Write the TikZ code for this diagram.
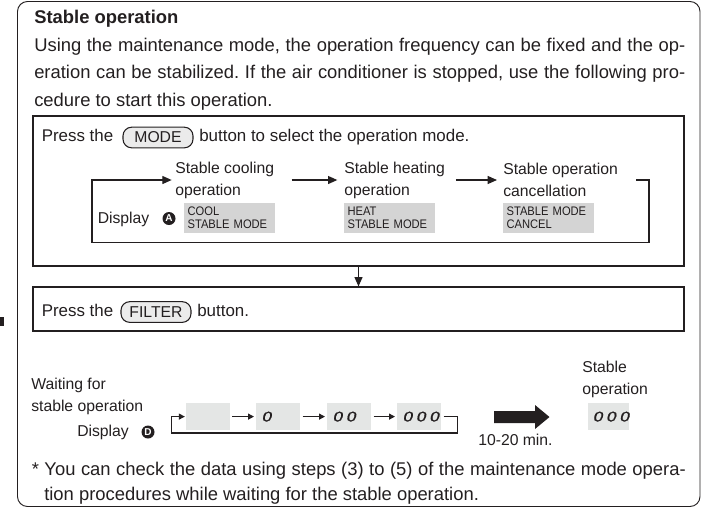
\documentclass[tikz,border=0pt]{standalone}
\usepackage{fontspec}
\setmainfont{Liberation Sans}
\newfontfamily\segfont[FakeSlant=0.22,FakeBold=1,FakeStretch=1.25]{Liberation Sans}
\newfontfamily\narrowfont[FakeStretch=0.9]{Liberation Sans}
\usetikzlibrary{arrows.meta}
\definecolor{ink}{HTML}{231F20}
\definecolor{dispgray}{HTML}{D4D4D4}
\definecolor{lcdgray}{HTML}{E4E6E5}
\definecolor{btngray}{HTML}{EBEBEB}
\frenchspacing
\begin{document}
\frenchspacing
\begin{tikzpicture}[x=0.75pt,y=-0.75pt,
  every node/.style={inner sep=0pt, text=ink},
  paraf/.style={font=\fontsize{13.8}{20}\selectfont},
  pressf/.style={font=\fontsize{12.7}{15}\selectfont},
  lbl/.style={font=\fontsize{11.8}{16.5}\selectfont, align=left},
  frameline/.style={draw=ink, line width=0.7pt},
  panel/.style={draw=ink, line width=0.9pt},
  loopline/.style={draw=ink, line width=0.9pt},
  arr/.style={loopline, -{Triangle[length=7pt,width=6pt]}},
  sarr/.style={loopline, -{Triangle[length=4.5pt,width=4.5pt]}},
  dispbox/.style={fill=dispgray, anchor=north west, inner xsep=2.5pt,
    text width=63.25pt, minimum height=22.5pt, align=left,
    font=\narrowfont\fontsize{9.3}{9.2}\selectfont},
  lcd/.style={fill=lcdgray, anchor=north west, minimum width=33pt,
    minimum height=20pt, font=\segfont\fontsize{10.5}{10.5}\selectfont},
  btn/.style={draw=ink, line width=0.8pt, fill=btngray, rounded corners=6.5pt,
    minimum height=15.5pt, minimum width=52.5pt, font=\fontsize{11.8}{12}\selectfont},
  circ/.style={circle, fill=ink, text=white, minimum size=9.75pt,
    font=\fontsize{7.5}{7.5}\selectfont\bfseries}
]
\useasboundingbox (0,0) rectangle (705,508);

% outer frame and margin mark
\draw[frameline, rounded corners=7.5pt] (17.5,1.5) rectangle (700,506.5);
\fill[ink] (0,317) rectangle (4,326);

% heading and paragraph
\node[anchor=base west, font=\fontsize{13.8}{16}\selectfont\bfseries] (title) at (34,23.5) {Stable operation};
\node[anchor=base west, paraf] (p1) at (34,51) {\makebox[488.25pt][s]{Using the maintenance mode, the operation frequency can be fixed and the op-}};
\node[anchor=base west, paraf] (p2) at (34,78.5) {\makebox[488.25pt][s]{eration can be stabilized. If the air conditioner is stopped, use the following pro-}};
\node[anchor=base west, paraf] (p3) at (34,106) {cedure to start this operation.};

% panel 1
\node[panel, minimum width=488.25pt, minimum height=112.5pt] (box1) at (358.5,191) {};
\node[anchor=base west, pressf] (press1) at (41.5,141.5) {Press the};
\node[btn] (mode) at (158,137.5) {MODE};
\node[anchor=base west, pressf] (sel) at (199,141.5) {button to select the operation mode.};

\node[lbl, anchor=west] (cool) at (175,180) {Stable cooling\\operation};
\node[lbl, anchor=west] (heat) at (344,180) {Stable heating\\operation};
\node[lbl, anchor=west] (canc) at (503,180) {Stable operation\\cancellation};

\draw[arr] ([xshift=13pt]cool.east) -- ([xshift=-5pt]heat.west);
\draw[arr] ([xshift=8pt]heat.east) -- ([xshift=-4.5pt]canc.west);
\coordinate (l1r) at (649,242.5);
\coordinate (l1l) at (92,242.5);
\draw[arr] ([xshift=13.5pt]canc.east) -- (canc.east -| l1r) -- (l1r) -- (l1l) -- (l1l |- cool.west) -- ([xshift=-2.5pt]cool.west);

\node[lbl, anchor=west] (disp1) at (97.5,219) {Display};
\node[circ] (cA) at (169,218.5) {A};
\node[dispbox] (dcool) at (184,202.5) {COOL\\STABLE MODE};
\node[dispbox] (dheat) at (344,202.5) {HEAT\\STABLE MODE};
\node[dispbox] (dcanc) at (503,202.5) {STABLE MODE\\CANCEL};

% panel 2
\node[panel, minimum width=488.25pt, minimum height=33pt] (box2) at (358.5,309) {};
\draw[arr] (box1.south) -- (box2.north);
\node[anchor=base west, pressf] (press2) at (41.5,316) {Press the};
\node[btn] (filter) at (156,312) {FILTER};
\node[anchor=base west, pressf] (btn2) at (197,316) {button.};

% waiting sequence
\node[lbl, anchor=west] (wait) at (31,396) {Waiting for\\stable operation};
\node[lbl, anchor=west] (disp2) at (77,432) {Display};
\node[circ] (cD) at (148,432) {D};

\node[lcd] (d1) at (185.5,403) {};
\node[lcd] (d2) at (256,403) {\raisebox{-2.2pt}{\makebox[25pt][l]{0}}};
\node[lcd] (d3) at (327,403) {\raisebox{-2.2pt}{\makebox[25pt][l]{0\hspace{2.7pt}0}}};
\node[lcd] (d4) at (397,403) {\raisebox{-2.2pt}{\makebox[25pt][l]{0\hspace{2.7pt}0\hspace{2.7pt}0}}};
\draw[sarr] ([xshift=1.5pt]d1.east) -- ([xshift=-1.5pt]d2.west);
\draw[sarr] ([xshift=1.5pt]d2.east) -- ([xshift=-1.5pt]d3.west);
\draw[sarr] ([xshift=1.5pt]d3.east) -- ([xshift=-1.5pt]d4.west);
\coordinate (l2r) at (457.5,433);
\coordinate (l2l) at (171.5,433);
\draw[sarr] ([xshift=1.5pt]d4.east) -- (d4.east -| l2r) -- (l2r) -- (l2l) -- (l2l |- d1.west) -- ([xshift=-0.5pt]d1.west);

% big arrow
\fill[ink] (494,411) -- (535,411) -- (535,405) -- (549.5,417) -- (535,429) -- (535,423) -- (494,423) -- cycle;
\node[lbl, anchor=west] (time) at (478,439.5) {10-20 min.};

% result
\node[lbl, anchor=west] (stab) at (582,379) {Stable\\operation};
\node[lcd, minimum width=30.75pt] (dres) at (588,403) {\raisebox{-2.2pt}{\makebox[24pt][l]{0\hspace{2.7pt}0\hspace{2.7pt}0}}};

% footnote
\node[anchor=base west, paraf] (f1) at (31.5,475) {\makebox[490.5pt][s]{* You can check the data using steps (3) to (5) of the maintenance mode opera-}};
\node[anchor=base west, paraf] (f2) at (44,500) {tion procedures while waiting for the stable operation.};
\end{tikzpicture}
\end{document}
